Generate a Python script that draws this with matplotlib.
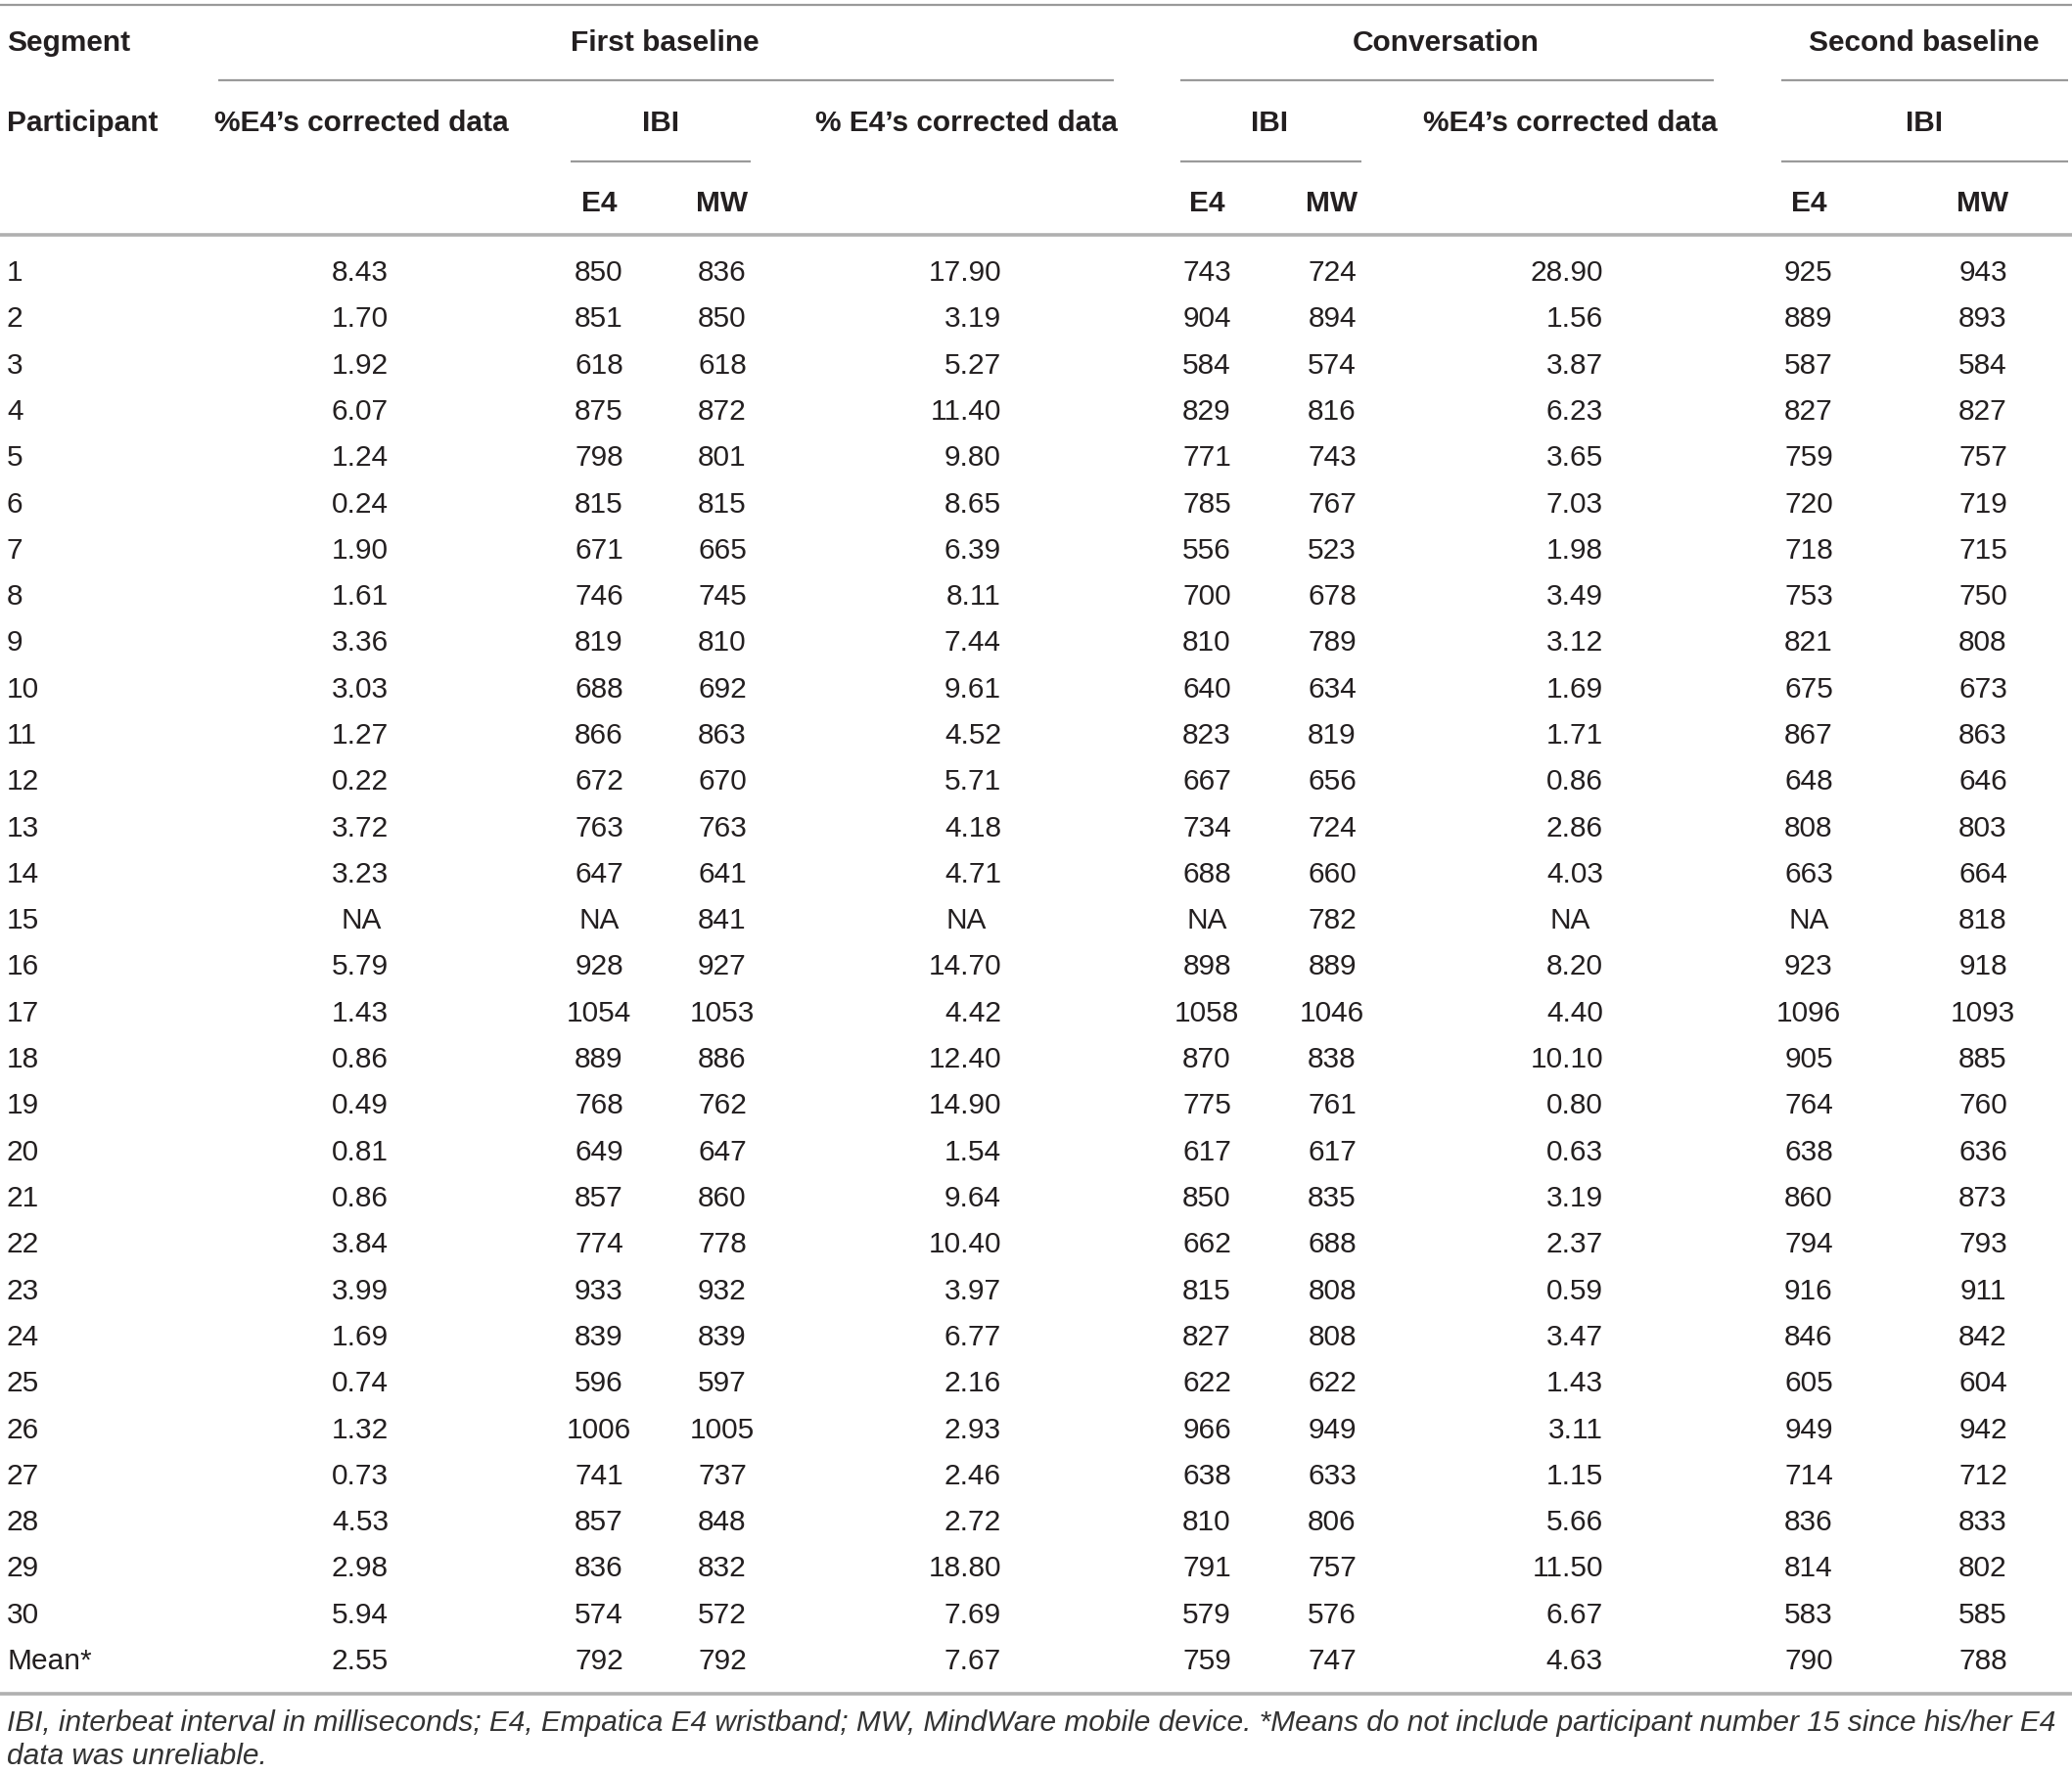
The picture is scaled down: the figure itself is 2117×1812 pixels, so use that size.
import matplotlib
matplotlib.use("Agg")
import matplotlib.pyplot as plt

participants = [str(i) for i in range(1, 31)] + ["Mean*"]

fb_corr = ["8.43", "1.70", "1.92", "6.07", "1.24", "0.24", "1.90", "1.61", "3.36", "3.03",
           "1.27", "0.22", "3.72", "3.23", "NA", "5.79", "1.43", "0.86", "0.49", "0.81",
           "0.86", "3.84", "3.99", "1.69", "0.74", "1.32", "0.73", "4.53", "2.98", "5.94", "2.55"]
fb_e4 = ["850", "851", "618", "875", "798", "815", "671", "746", "819", "688",
         "866", "672", "763", "647", "NA", "928", "1054", "889", "768", "649",
         "857", "774", "933", "839", "596", "1006", "741", "857", "836", "574", "792"]
fb_mw = ["836", "850", "618", "872", "801", "815", "665", "745", "810", "692",
         "863", "670", "763", "641", "841", "927", "1053", "886", "762", "647",
         "860", "778", "932", "839", "597", "1005", "737", "848", "832", "572", "792"]
conv_corr_a = ["17.90", "3.19", "5.27", "11.40", "9.80", "8.65", "6.39", "8.11", "7.44", "9.61",
               "4.52", "5.71", "4.18", "4.71", "NA", "14.70", "4.42", "12.40", "14.90", "1.54",
               "9.64", "10.40", "3.97", "6.77", "2.16", "2.93", "2.46", "2.72", "18.80", "7.69", "7.67"]
conv_e4 = ["743", "904", "584", "829", "771", "785", "556", "700", "810", "640",
           "823", "667", "734", "688", "NA", "898", "1058", "870", "775", "617",
           "850", "662", "815", "827", "622", "966", "638", "810", "791", "579", "759"]
conv_mw = ["724", "894", "574", "816", "743", "767", "523", "678", "789", "634",
           "819", "656", "724", "660", "782", "889", "1046", "838", "761", "617",
           "835", "688", "808", "808", "622", "949", "633", "806", "757", "576", "747"]
sb_corr = ["28.90", "1.56", "3.87", "6.23", "3.65", "7.03", "1.98", "3.49", "3.12", "1.69",
           "1.71", "0.86", "2.86", "4.03", "NA", "8.20", "4.40", "10.10", "0.80", "0.63",
           "3.19", "2.37", "0.59", "3.47", "1.43", "3.11", "1.15", "5.66", "11.50", "6.67", "4.63"]
sb_e4 = ["925", "889", "587", "827", "759", "720", "718", "753", "821", "675",
         "867", "648", "808", "663", "NA", "923", "1096", "905", "764", "638",
         "860", "794", "916", "846", "605", "949", "714", "836", "814", "583", "790"]
sb_mw = ["943", "893", "584", "827", "757", "719", "715", "750", "808", "673",
         "863", "646", "803", "664", "818", "918", "1093", "885", "760", "636",
         "873", "793", "911", "842", "604", "942", "712", "833", "802", "585", "788"]

footnote = ["IBI, interbeat interval in milliseconds; E4, Empatica E4 wristband; MW, MindWare mobile device. *Means do not include participant number 15 since his/her E4",
            "data was unreliable."]

W, H = 2117, 1812
fig = plt.figure(figsize=(W / 100, H / 100), dpi=100)
ax = fig.add_axes([0, 0, 1, 1])
ax.set_xlim(0, W)
ax.set_ylim(H, 0)
ax.axis("off")

FONT = "Liberation Sans"
FS = 21.5
TXT = "#231f20"
LINE = "#9a9a9a"

# vertical layout (pixels)
y_h1, y_h2, y_h3 = 41, 123, 204
y_row0, dy = 275.5, 47.3
cap = 11.5  # half cap height, to put baselines under centres


def put(x, y, s, ha="center", bold=False, **kw):
    ax.text(x, y + cap, s, ha=ha, va="baseline", fontsize=FS, family=FONT,
            fontweight="bold" if bold else "normal", color=TXT, **kw)


def hline(x0, x1, y, lw=1.6, c=LINE):
    ax.plot([x0, x1], [y, y], color=c, lw=lw, solid_capstyle="butt")


# rules
hline(0, W, 5, lw=1.6)
hline(0, W, 240, lw=2.6, c="#b0b0b0")
hline(0, W, 1731, lw=2.6, c="#b0b0b0")
hline(223, 1138, 82)
hline(1206, 1751, 82)
hline(1820, W - 4, 82)
hline(583, 767, 165)
hline(1206, 1391, 165)
hline(1820, W - 4, 165)

# header
put(7, y_h1, "Segment", ha="left", bold=True)
put(679, y_h1, "First baseline", bold=True)
put(1477, y_h1, "Conversation", bold=True)
put(1966, y_h1, "Second baseline", bold=True)
put(7, y_h2, "Participant", ha="left", bold=True)
put(369, y_h2, "%E4\u2019s corrected data", bold=True)
put(675, y_h2, "IBI", bold=True)
put(987, y_h2, "% E4\u2019s corrected data", bold=True)
put(1297, y_h2, "IBI", bold=True)
put(1604, y_h2, "%E4\u2019s corrected data", bold=True)
put(1966, y_h2, "IBI", bold=True)
for x in (612, 1233, 1848):
    put(x, y_h3, "E4", bold=True)
for x in (738, 1361, 2026):
    put(x, y_h3, "MW", bold=True)

# columns: (values, x, align, x for NA)
cols = [
    (fb_corr, 397, "right", 369),
    (fb_e4, 612, "center", 612),
    (fb_mw, 738, "center", 738),
    (conv_corr_a, 1023, "right", 987),
    (conv_e4, 1233, "center", 1233),
    (conv_mw, 1361, "center", 1361),
    (sb_corr, 1638, "right", 1604),
    (sb_e4, 1848, "center", 1848),
    (sb_mw, 2026, "center", 2026),
]

for i, p in enumerate(participants):
    y = y_row0 + i * dy
    put(7, y, p, ha="left")
    for vals, x, ha, xna in cols:
        v = vals[i]
        if v == "NA":
            put(xna, y, v)
        else:
            put(x, y, v, ha=ha)

for j, line in enumerate(footnote):
    ax.text(7, 1759 + j * 34 + 10, line, ha="left", va="baseline", fontsize=21.5,
            family=FONT, style="italic", color="#333333")

fig.savefig("out.png", dpi=100)
